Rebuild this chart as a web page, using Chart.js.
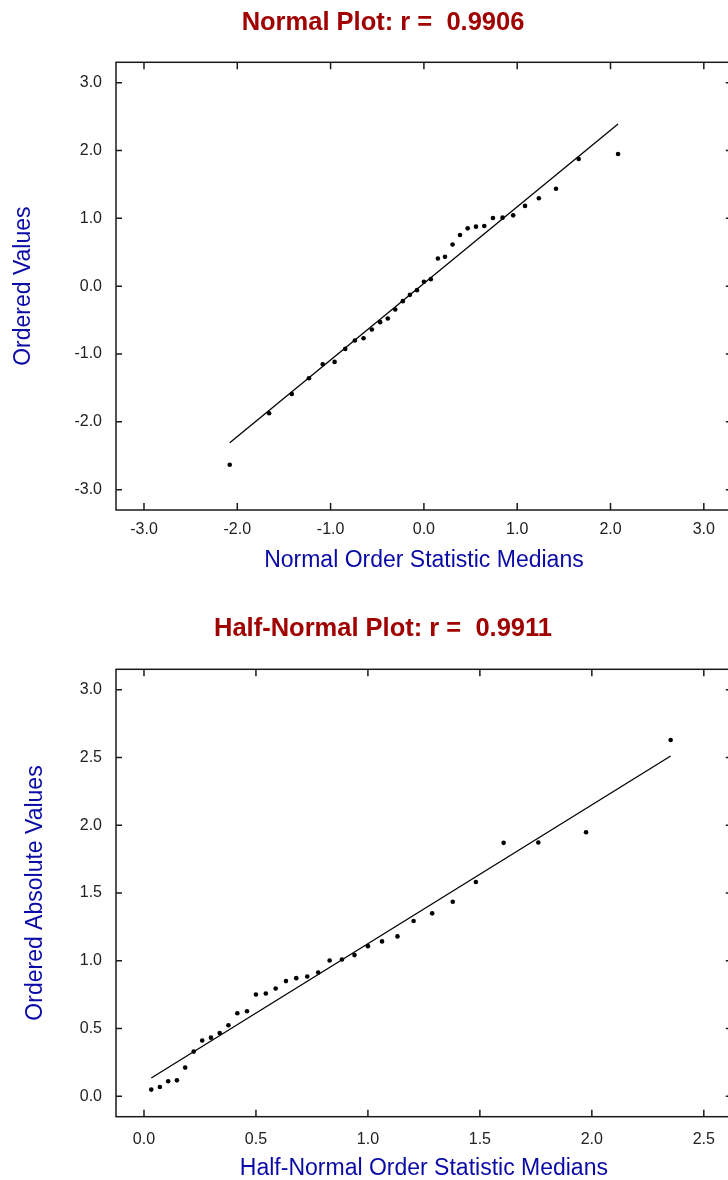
<!DOCTYPE html>
<html lang="en">
<head>
  <meta charset="UTF-8">
  <title>Normal / Half-Normal Plot</title>
  <script src="https://cdn.jsdelivr.net/npm/chart.js"></script>
  <style>
    body { margin: 0; width: 728px; height: 1180px; overflow: hidden; background: #fff; }
    .grafico { position: relative; width: 766px; height: 590px; }
  </style>
</head>
<body>
  <div class="grafico"><canvas id="graficoNormal"></canvas></div>
  <div class="grafico"><canvas id="graficoMeia"></canvas></div>

<script>
  // normal plot
  const normalX = [-2.081, -1.659, -1.416, -1.232, -1.084, -0.957, -0.843, -0.740, -0.647, -0.558, -0.469,
    -0.387, -0.307, -0.226, -0.150, -0.074, 0, 0.074, 0.150, 0.226, 0.307, 0.387, 0.469, 0.558, 0.647,
    0.740, 0.843, 0.957, 1.084, 1.232, 1.416, 1.659, 2.081]
  const normalY = [-2.632, -1.874, -1.589, -1.358, -1.151, -1.117, -0.925, -0.802, -0.767, -0.639, -0.531,
    -0.477, -0.344, -0.221, -0.128, -0.059, 0.064, 0.103, 0.407, 0.432, 0.615, 0.753, 0.852, 0.877, 0.886,
    1.005, 1.010, 1.044, 1.183, 1.296, 1.435, 1.874, 1.948]
  const normalRetaX = [-2.081, 2.081]
  const normalRetaY = [-2.31, 2.39]
  const normalTicks = [-3, -2, -1, 0, 1, 2, 3]

  // half-normal plot
  const meiaX = [0.0325, 0.071, 0.108, 0.147, 0.184, 0.222, 0.260, 0.299, 0.338, 0.377, 0.417, 0.460,
    0.500, 0.544, 0.588, 0.634, 0.680, 0.729, 0.778, 0.829, 0.884, 0.940, 1.000, 1.063, 1.132, 1.204,
    1.287, 1.379, 1.482, 1.606, 1.761, 1.974, 2.352]
  const meiaY = [0.050, 0.069, 0.111, 0.118, 0.212, 0.330, 0.412, 0.433, 0.467, 0.525, 0.613, 0.628,
    0.751, 0.759, 0.796, 0.850, 0.872, 0.884, 0.914, 1.002, 1.010, 1.042, 1.108, 1.143, 1.180, 1.293,
    1.350, 1.436, 1.581, 1.870, 1.872, 1.948, 2.628]
  const meiaRetaX = [0.0325, 2.352]
  const meiaRetaY = [0.135, 2.510]
  const meiaTicksX = [0, 0.5, 1, 1.5, 2, 2.5]
  const meiaTicksY = [0, 0.5, 1, 1.5, 2, 2.5, 3]

  Chart.defaults.font.family = 'Arial, "Liberation Sans", Helvetica, sans-serif'

  const corTexto = '#222'
  const corTitulo = '#a00000'
  const corEixo = '#0a0aa6'

  // frame with inward ticks on all four sides
  const moldura = {
    id: 'moldura',
    afterDraw(chart) {
      const ctx = chart.ctx
      const a = chart.chartArea
      const x = chart.scales.x
      const y = chart.scales.y
      ctx.save()
      ctx.strokeStyle = '#1a1a1a'
      ctx.lineWidth = 1.5
      ctx.strokeRect(a.left, a.top, a.right - a.left, a.bottom - a.top)
      ctx.beginPath()
      x.ticks.forEach(function (t) {
        const px = x.getPixelForValue(t.value)
        ctx.moveTo(px, a.bottom); ctx.lineTo(px, a.bottom - 7)
        ctx.moveTo(px, a.top); ctx.lineTo(px, a.top + 7)
      })
      y.ticks.forEach(function (t) {
        const py = y.getPixelForValue(t.value)
        ctx.moveTo(a.left, py); ctx.lineTo(a.left + 6, py)
        ctx.moveTo(a.right, py); ctx.lineTo(a.right - 6, py)
      })
      ctx.stroke()
      ctx.restore()
    }
  }

  function pares(xs, ys) {
    const lista = []
    for (let i = 0; i < xs.length; i++) {
      lista.push({ x: xs[i], y: ys[i] })
    }
    return lista
  }

  function plotar(id, c) {
    return new Chart(document.getElementById(id), {
      type: 'scatter',
      data: {
        datasets: [{
          data: pares(c.px, c.py),
          backgroundColor: '#000',
          borderWidth: 0,
          pointRadius: 2.3
        }, {
          data: pares(c.rx, c.ry),
          showLine: true,
          borderColor: '#000',
          borderWidth: 1.3,
          pointRadius: 0
        }]
      },
      plugins: [moldura],
      options: {
        responsive: true,
        maintainAspectRatio: false,
        animation: false,
        events: [],
        // equal side padding keeps the title centred on the full (cropped) canvas
        layout: { padding: { left: 34.2, right: 34.2, top: 0, bottom: 0 } },
        plugins: {
          legend: { display: false },
          tooltip: { enabled: false },
          title: {
            display: true,
            text: c.titulo,
            color: corTitulo,
            font: { size: 25.5, weight: 'bold', lineHeight: 1 },
            padding: { top: c.tituloTopo, bottom: c.tituloBase }
          }
        },
        scales: {
          x: {
            type: 'linear',
            min: c.xmin,
            max: c.xmax,
            afterBuildTicks: function (s) { s.ticks = c.tx.map(v => ({ value: v })) },
            afterFit: function (s) { s.height = c.alturaX },
            grid: { display: false, drawTicks: false },
            border: { display: false },
            ticks: {
              color: corTexto, font: { size: 16 }, padding: c.padTickX,
              maxRotation: 0, autoSkip: false,
              callback: v => v.toFixed(1)
            },
            title: {
              display: true, text: c.tituloX, color: corEixo,
              font: { size: 23, lineHeight: 1 },
              padding: { top: 0, bottom: c.padTituloX }
            }
          },
          y: {
            type: 'linear',
            min: c.ymin,
            max: c.ymax,
            afterBuildTicks: function (s) { s.ticks = c.ty.map(v => ({ value: v })) },
            afterFit: function (s) { s.width = 81.8 },
            grid: { display: false, drawTicks: false },
            border: { display: false },
            ticks: {
              color: corTexto, font: { size: 16 }, padding: 14,
              autoSkip: false,
              callback: v => v.toFixed(1)
            },
            title: {
              display: true, text: c.tituloY, color: corEixo,
              font: { size: 23, lineHeight: 1 },
              padding: { top: c.padTituloY, bottom: 0 }
            }
          }
        }
      }
    })
  }

  plotar('graficoNormal', {
    px: normalX, py: normalY, rx: normalRetaX, ry: normalRetaY,
    tx: normalTicks, ty: normalTicks,
    xmin: -3.3, xmax: 3.3, ymin: -3.3, ymax: 3.3,
    titulo: 'Normal Plot: r =  0.9906', tituloTopo: 10, tituloBase: 26.8,
    tituloX: 'Normal Order Statistic Medians', tituloY: 'Ordered Values',
    alturaX: 80, padTickX: 10.4, padTituloX: 17.6, padTituloY: -22.2
  })

  plotar('graficoMeia', {
    px: meiaX, py: meiaY, rx: meiaRetaX, ry: meiaRetaY,
    tx: meiaTicksX, ty: meiaTicksY,
    xmin: -0.125, xmax: 2.625, ymin: -0.15, ymax: 3.15,
    titulo: 'Half-Normal Plot: r =  0.9911', tituloTopo: 26, tituloBase: 27.8,
    tituloX: 'Half-Normal Order Statistic Medians', tituloY: 'Ordered Absolute Values',
    alturaX: 63.3, padTickX: 13.7, padTituloX: 0.2, padTituloY: -10.2
  })
</script>
</body>
</html>
